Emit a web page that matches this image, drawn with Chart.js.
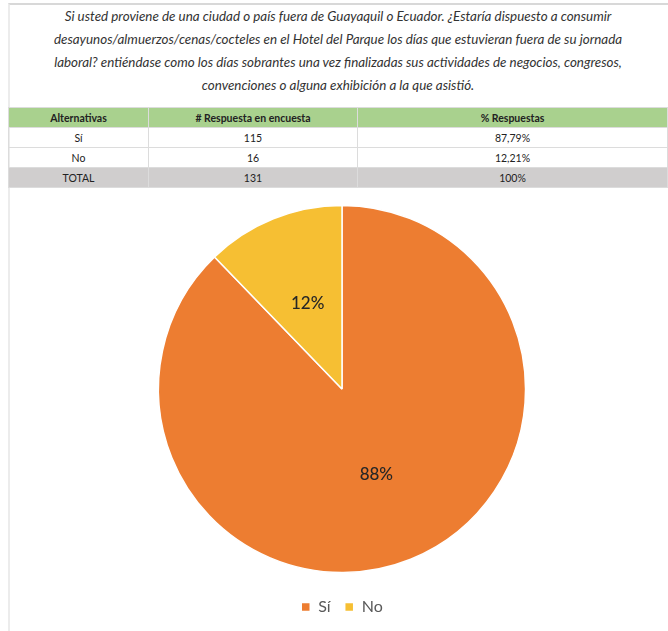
<!DOCTYPE html>
<html>
<head>
<meta charset="utf-8">
<script src="https://cdn.jsdelivr.net/npm/chart.js@4"></script>
<style>
    body { margin: 0; background: #fff; font-family: Lato, "Open Sans", sans-serif; }
    #frame { position: absolute; left: 8px; top: 3px; width: 660px; height: 628px; border-top: 2px solid #d8d8d8; border-left: 2px solid #ececec; box-sizing: border-box; }
    #title { position: absolute; left: 8px; top: 5px; width: 660px; text-align: center; font-style: italic; font-size: 13.4px; line-height: 23px; color: #333; }
    table { position: absolute; left: 8px; top: 107px; width: 660px; border-collapse: collapse; font-size: 10.5px; color: #222; }
    td, th { text-align: center; height: 19px; padding: 0; border: 1px solid #dcdcdc; }
    th { background: #a9d18e; font-weight: bold; }
    tr.total td { background: #d0cece; }
    #chartBox { position: absolute; left: 8px; top: 192px; width: 660px; height: 439px; }
</style>
</head>
<body>
<div id="frame"></div>
<div id="title">Si usted proviene de una ciudad o país fuera de Guayaquil o Ecuador. ¿Estaría dispuesto a consumir<br>desayunos/almuerzos/cenas/cocteles en el Hotel del Parque los días que estuvieran fuera de su jornada<br>laboral? entiéndase como los días sobrantes una vez finalizadas sus actividades de negocios, congresos,<br>convenciones o alguna exhibición a la que asistió.</div>
<table id="tbl"></table>
<div id="chartBox"><canvas id="chart"></canvas></div>
<script>
const headers = ['Alternativas', '# Respuesta en encuesta', '% Respuestas'];
const categories = ['Sí', 'No'];
const counts = [115, 16];
const percentText = ['87,79%', '12,21%'];
const totalRow = ['TOTAL', '131', '100%'];
const pieLabels = ['88%', '12%'];
const colors = ['#ed7d31', '#f6bf33'];

// table
const tbl = document.getElementById('tbl');
let html = '<colgroup><col style="width:140px"><col style="width:209px"><col></colgroup>';
html += '<tr>' + headers.map(h => `<th>${h}</th>`).join('') + '</tr>';
categories.forEach((c, i) => {
    html += `<tr><td>${c}</td><td>${counts[i]}</td><td>${percentText[i]}</td></tr>`;
});
html += '<tr class="total">' + totalRow.map(t => `<td>${t}</td>`).join('') + '</tr>';
tbl.innerHTML = html;

// labels in the middle of each slice
const sliceLabels = {
    id: 'sliceLabels',
    afterDatasetsDraw(chart) {
        const ctx = chart.ctx;
        const meta = chart.getDatasetMeta(0);
        ctx.save();
        ctx.font = '500 17px Lato, "Open Sans", sans-serif';
        ctx.fillStyle = '#262626';
        ctx.textAlign = 'center';
        ctx.textBaseline = 'middle';
        meta.data.forEach((arc, i) => {
            const p = arc.getCenterPoint();
            ctx.fillText(pieLabels[i], p.x, p.y);
        });
        ctx.restore();
    }
};

new Chart(document.getElementById('chart'), {
    type: 'pie',
    data: {
        labels: categories,
        datasets: [{
            data: counts,
            backgroundColor: colors,
            borderColor: '#ffffff',
            borderWidth: 1.5
        }]
    },
    options: {
        responsive: true,
        maintainAspectRatio: false,
        animation: false,
        radius: '94%',
        layout: { padding: { top: 1, left: 8, bottom: 6 } },
        plugins: {
            legend: {
                position: 'bottom',
                labels: {
                    boxWidth: 9,
                    boxHeight: 9,
                    padding: 14,
                    color: '#595959',
                    font: { size: 16, family: 'Lato, "Open Sans", sans-serif' }
                }
            },
            tooltip: { enabled: false }
        }
    },
    plugins: [sliceLabels]
});
</script>
</body>
</html>
